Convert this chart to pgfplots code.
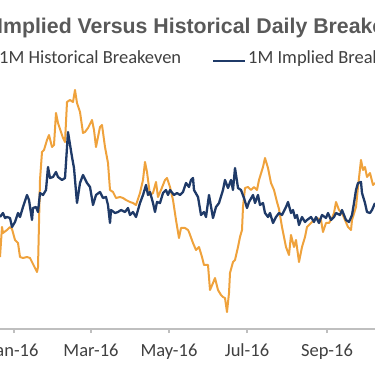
\documentclass[border=0pt]{standalone}
\usepackage{pgfplots}
\pgfplotsset{compat=1.18}
\usepackage{fontspec}
\setmainfont{Carlito}
\newfontfamily\titlefont{Liberation Sans}
\definecolor{navy}{HTML}{1F3A68}
\definecolor{orng}{HTML}{EFA23C}
\definecolor{axgray}{HTML}{BFBFBF}
\definecolor{txt}{HTML}{404040}
\definecolor{ttl}{HTML}{595959}
\begin{document}
\begin{tikzpicture}[x=1pt,y=1pt]
\path[use as bounding box] (0,0) rectangle (375,375);
\clip (0,0) rectangle (375,375);
\begin{axis}[
  at={(0,46)}, anchor=south west,
  scale only axis, width=375pt, height=329pt,
  xmin=0, xmax=375, ymin=0, ymax=329,
  axis x line=bottom, axis y line=none,
  axis line style={axgray, line width=1.2pt, -},
  xtick={14,91,169,247,327},
  xticklabels={Jan-16,Mar-16,May-16,Jul-16,Sep-16},
  tick align=outside, major tick length=4pt,
  x tick style={axgray, line width=1.2pt},
  xticklabel style={font=\fontsize{18.5}{22}\selectfont, text=txt, yshift=-7pt},
  ytick=\empty,
]
\addplot[orng, line width=2pt, line join=round] coordinates {
(0,72) (2,102) (3,96) (7,99) (10,102) (12,100) (15,89) (18,86) (20,72) (23,71) (27,72) (30,71) (32,67) (35,61) (37,57) (38,62) (40,149) (42,177) (44,179) (47,189) (49,194) (52,182) (54,184) (56,216) (58,206) (61,197) (63,191) (65,187) (67,227) (70,229) (73,227) (75,239) (77,226) (80,217) (83,196) (85,197) (88,201) (92,209) (94,199) (96,182) (100,202) (102,204) (105,182) (108,166) (110,139) (113,137) (116,131) (120,132) (123,131) (126,129) (130,127) (133,126) (136,124) (140,136) (143,149) (145,167) (147,157) (150,134) (153,136) (156,147) (158,132) (161,139) (165,149) (167,151) (170,142) (173,129) (176,109) (179,91) (181,101) (185,101) (188,99) (189,97) (193,86) (196,79) (199,82) (202,72) (204,64) (208,64) (210,39) (213,46) (215,51) (218,39) (221,34) (223,32) (225,31) (227,17) (229,36) (230,56) (233,67) (235,69) (238,82) (240,92) (242,99) (243,122) (245,141) (248,142) (251,139) (254,142) (257,139) (259,149) (263,162) (265,171) (268,161) (271,146) (274,139) (277,127) (279,120) (282,102) (284,92) (286,82) (289,74) (291,94) (294,82) (296,89) (299,67) (302,82) (305,92) (307,102) (311,106) (314,109) (317,111) (321,109) (323,97) (326,106) (329,106) (332,111) (334,116) (336,127) (339,119) (342,116) (345,109) (348,102) (351,99) (352,109) (356,122) (358,142) (361,169) (363,159) (365,162) (367,152) (370,156) (373,144) (375,146)
};
\addplot[navy, line width=2.3pt, line join=round] coordinates {
(0,112) (3,116) (5,111) (7,112) (10,111) (12,102) (15,107) (18,116) (20,112) (23,122) (27,134) (29,129) (32,109) (33,121) (36,122) (38,117) (40,136) (43,134) (46,139) (48,162) (50,151) (53,152) (56,157) (58,152) (62,149) (65,151) (68,197) (72,172) (74,161) (77,126) (80,146) (83,154) (87,146) (90,142) (93,124) (96,134) (100,137) (103,131) (106,132) (108,124) (110,106) (111,119) (115,116) (118,117) (121,119) (125,117) (128,121) (130,114) (133,117) (136,112) (140,126) (143,134) (146,144) (148,134) (150,137) (153,126) (155,117) (157,127) (160,126) (163,136) (166,139) (168,134) (170,139) (174,134) (177,136) (180,134) (183,137) (186,146) (189,142) (191,149) (193,151) (194,139) (198,132) (201,114) (204,117) (206,112) (209,134) (213,111) (216,122) (219,126) (223,139) (225,149) (228,141) (231,149) (233,139) (235,161) (238,141) (241,139) (244,131) (247,121) (249,127) (253,134) (255,126) (258,134) (260,124) (263,126) (265,116) (268,112) (270,116) (273,106) (276,112) (279,116) (282,114) (286,122) (288,127) (291,116) (293,119) (295,111) (297,114) (299,104) (302,112) (305,107) (307,109) (311,112) (314,107) (316,112) (319,106) (322,114) (326,111) (328,116) (331,109) (334,112) (336,116) (340,114) (342,119) (346,109) (349,107) (352,114) (354,126) (356,139) (358,146) (361,147) (362,136) (365,126) (367,117) (370,116) (372,119) (375,126)
};
\end{axis}
\node[anchor=base west, text=ttl, inner sep=0pt] at (-3,341) {\titlefont\fontsize{21.3}{25}\selectfont\bfseries Implied Versus Historical Daily Breakeven};
\draw[orng, line width=2.2pt] (-36,314) -- (-4,314);
\node[anchor=base west, text=txt, inner sep=0pt] at (-1,311) {\fontsize{18.5}{22}\selectfont 1M Historical Breakeven};
\draw[navy, line width=2.2pt] (213,314) -- (245,314);
\node[anchor=base west, text=txt, inner sep=0pt] at (248,311) {\fontsize{18.5}{22}\selectfont 1M Implied Breakeven};
\end{tikzpicture}
\end{document}
